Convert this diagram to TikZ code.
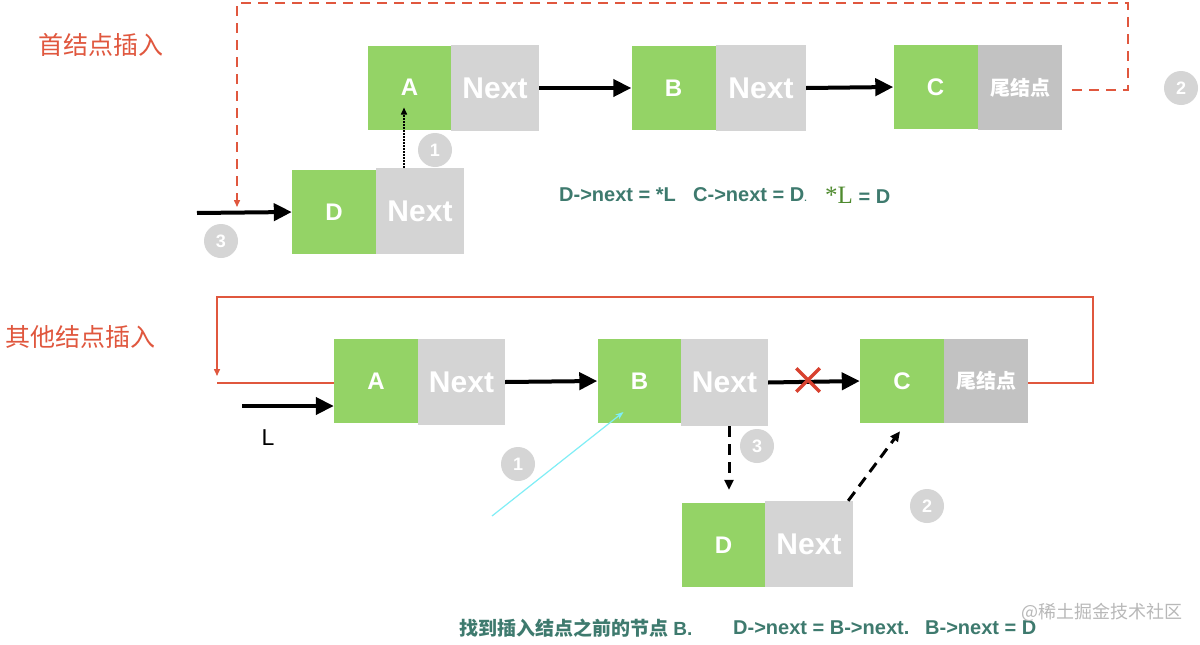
\documentclass[tikz,border=0pt]{standalone}
\usepackage{fontspec}
\setmainfont{Liberation Sans}
\newfontfamily\cjk{Noto Sans CJK SC}
\newfontfamily\serifL{Liberation Serif}
\usetikzlibrary{arrows.meta,shapes.misc,calc}
\definecolor{gboxc}{HTML}{94D366}
\definecolor{nboxc}{HTML}{D4D4D4}
\definecolor{tboxc}{HTML}{C2C2C2}
\definecolor{redc}{HTML}{E0573E}
\definecolor{crossc}{HTML}{D8412F}
\definecolor{tealc}{HTML}{3E7A6E}
\definecolor{lgreenc}{HTML}{4E8A2E}
\definecolor{circc}{HTML}{D5D5D5}
\definecolor{cyanc}{HTML}{80EEF6}
\definecolor{wmc}{HTML}{B8B8B8}
\newcommand\myfs[1]{\fontsize{#1}{#1}\selectfont}
\tikzset{
  databox/.style={fill=gboxc, text=white, inner sep=0pt, minimum width=84pt, minimum height=84pt, font=\myfs{24}\bfseries},
  nextbox/.style={fill=nboxc, text=white, inner sep=0pt, minimum width=88pt, minimum height=86pt, font=\myfs{30}\bfseries},
  tailbox/.style={fill=tboxc, text=white, inner sep=0pt, minimum width=84pt, minimum height=85pt, font=\cjk\myfs{20}\bfseries},
  bigarr/.style={line width=4pt, -{Triangle[length=18pt,width=17pt]}},
  dasharr/.style={line width=3pt, dash pattern=on 11pt off 7pt, -{Triangle[length=10pt,width=9pt]}},
  dotarr/.style={line width=1.5pt, dash pattern=on 1.5pt off 1.5pt, -{Triangle[length=7pt,width=6pt]}},
  reddash/.style={redc, line width=1.5pt, dash pattern=on 10pt off 7pt, -{Triangle[length=7pt,width=6pt]}},
  redline/.style={redc, line width=1.5pt},
  numcirc/.style={circle, fill=circc, text=white, inner sep=0pt, minimum size=34pt, font=\myfs{18}\bfseries},
  cyanarr/.style={cyanc, line width=1.2pt, -{Stealth[length=8pt,width=6pt]}},
  formula/.style={text=tealc, font=\myfs{20}\bfseries, inner sep=0pt, anchor=west},
  titletext/.style={text=redc, font=\cjk\myfs{25}, inner sep=0pt, anchor=west},
}
\begin{document}
\begin{tikzpicture}[x=1pt, y=-1pt]
\useasboundingbox[fill=white] (0,0) rectangle (1200,645);

% titles
\node[titletext] (title1) at (38,45) {首结点插入};
\node[titletext] (title2) at (5,337) {其他结点插入};

% ---------- top: head insertion ----------
\node[databox] (tA) at (409.5,87.5) {A};
\node[nextbox] (tAn) at (495,88) {Next};
\node[databox] (tB) at (673.5,88) {B};
\node[nextbox, minimum width=90pt] (tBn) at (761,88) {Next};
\node[databox] (tC) at (935.5,87) {C};
\node[tailbox] (tCn) at (1020,87.5) {尾结点};
\node[databox] (tD) at (334,212) {D};
\node[nextbox] (tDn) at (420,211) {Next};

\draw[bigarr] (tAn.east) -- (tB.west);
\draw[bigarr] (tBn.east) -- (tC.west);

\coordinate (L1) at (197,213);
\draw[bigarr] (L1) -- (tD.west);

\coordinate (d1) at ([xshift=-16pt]tDn.north);
\draw[dotarr, shorten >=20pt] (d1) -- (d1 |- tA.center);

\coordinate (r0) at ([xshift=10pt,yshift=-2.5pt]tCn.east);
\coordinate (r1) at (1128,3);
\coordinate (r2) at (237,3);
\coordinate (r3) at (237,207);
\draw[reddash] (r0) -| (r1) -- (r2) -- (r3);

\node[numcirc] (tc1) at (435,150) {1};
\node[numcirc] (tc2) at (1181,88) {2};
\node[numcirc] (tc3) at (221,241) {3};

\node[formula] (f1) at (559,195) {D->next = *L};
\node[formula] (f2) at (693,195) {C->next = D{\myfs{9}.}};
\node[formula] (f3) at (825,195) {{\serifL\mdseries\color{lgreenc}\myfs{25}*L} = D};

% ---------- bottom: other insertion ----------
\node[databox] (bA) at (376,381) {A};
\node[nextbox, minimum width=87pt] (bAn) at (461.5,382) {Next};
\node[databox] (bB) at (639.5,381) {B};
\node[nextbox, minimum width=87pt, minimum height=87pt] (bBn) at (724.5,382.5) {Next};
\node[databox] (bC) at (902,381) {C};
\node[tailbox, minimum height=84pt] (bCn) at (986,381) {尾结点};
\node[databox] (bD) at (723.5,545) {D};
\node[nextbox] (bDn) at (809,544) {Next};

\draw[bigarr] (bAn.east) -- (bB.west);
\draw[bigarr] (bBn.east) -- (bC.west);
\node[cross out, draw=crossc, line width=3.5pt, minimum size=20pt, inner sep=0pt] (xmark) at (808,380) {};

\coordinate (L2) at (242,406);
\draw[bigarr] (L2) -- (L2 -| bA.west);
\node[font=\myfs{23}, inner sep=0pt] (Llab) at (268,438) {L};

\coordinate (s1) at (1093,297);
\coordinate (s2) at (217,297);
\coordinate (s3) at (217,376);
\coordinate (s4) at (217,383);
\draw[redline, -{Triangle[length=7pt,width=6pt]}] ([yshift=-2pt]bCn.east) -| (s1) -- (s2) -- (s3);
\draw[redline] (s4) -- (s4 -| bA.west);

\coordinate (d2) at ([xshift=4.5pt]bBn.south);
\draw[dasharr, shorten >=13pt] (d2) -- (d2 |- bD.north);
\draw[dasharr, shorten >=10pt] ([xshift=-5pt]bDn.north east) -- ([xshift=4pt]bC.south);

\coordinate (cy) at (492,516);
\draw[cyanarr] (cy) -- ($(bB.center)+(-16,31)$);

\node[numcirc] (bc1) at (518,464) {1};
\node[numcirc] (bc3) at (757,446) {3};
\node[numcirc] (bc2) at (927,506) {2};

\node[formula, font=\myfs{19}\bfseries] (g1) at (459,628) {{\cjk 找到插入结点之前的节点} B.};
\node[formula] (g2) at (733,628) {D->next = B->next.};
\node[formula] (g3) at (925,628) {B->next = D};
\node[text=wmc, font=\cjk\myfs{18}, inner sep=0pt, anchor=east] (wm) at (1183,612) {@稀土掘金技术社区};
\end{tikzpicture}
\end{document}
